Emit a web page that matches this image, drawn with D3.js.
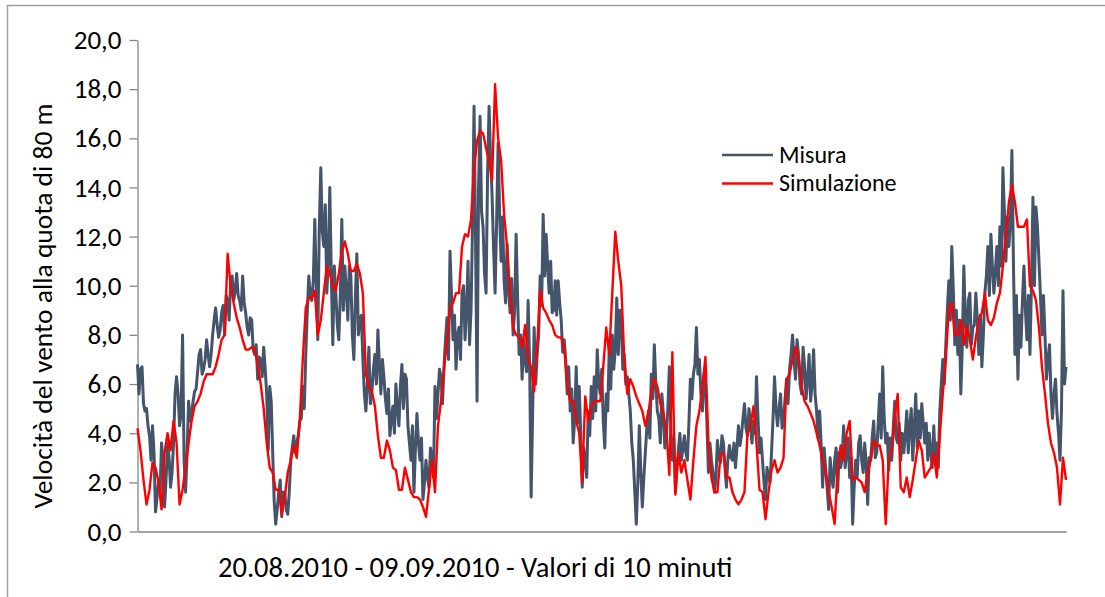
<!DOCTYPE html>
<html>
<head>
<meta charset="utf-8">
<script src="https://cdn.jsdelivr.net/npm/d3@7"></script>
<style>
  html, body { margin: 0; padding: 0; background: #fff; }
  svg { display: block; }
  text { font-family: Calibri, Carlito, "Open Sans", sans-serif; fill: #000; }
</style>
</head>
<body>
<svg id="chart" width="1105" height="597"></svg>
<script>
// Wind speed at 80 m, 10-minute values, 20.08.2010 - 09.09.2010 (m/s)
const misura = [
  6.8, 5.6, 6.6, 6.7, 5.2, 4.9, 5.0, 4.3, 3.9, 2.9, 4.3, 3.2, 0.8, 1.4, 2.0, 1.6, 3.6, 2.9, 1.0, 2.1,
  3.6, 3.0, 1.8, 2.4, 3.6, 5.6, 6.3, 5.6, 4.3, 4.8, 8.0, 2.9, 1.6, 3.2, 5.3, 4.5, 4.8, 5.3, 5.7, 5.8,
  6.5, 7.2, 7.4, 6.4, 6.6, 7.0, 7.8, 7.2, 6.7, 7.2, 8.0, 8.6, 9.1, 8.4, 7.9, 8.2, 8.9, 9.2, 8.0, 9.6,
  9.4, 8.6, 10.2, 10.4, 9.4, 9.8, 10.5, 9.6, 9.4, 9.0, 10.4, 9.3, 8.9, 8.3, 8.0, 8.7, 8.6, 7.4, 7.2, 7.6,
  6.2, 7.1, 7.0, 6.3, 7.5, 6.6, 5.6, 3.3, 5.9, 5.3, 3.2, 1.2, 0.3, 0.9, 1.6, 2.1, 0.6, 1.6, 1.6, 0.9,
  0.7, 1.6, 2.9, 3.4, 3.9,
  3.2,
  3.6, 3.9, 4.5, 4.6, 5.9, 5.0, 7.2, 8.9, 10.4, 9.6, 9.4, 10.2, 12.7, 10.0, 7.8, 12.4, 14.8, 12.2, 11.6, 13.3,
  9.7, 11.0, 14.0, 10.4, 7.6, 10.8, 9.7, 8.4, 7.8, 9.6, 12.7, 9.0, 10.8, 9.8, 8.6, 10.8, 10.4, 8.0, 7.0, 9.5,
  11.3, 8.0, 8.6, 8.8, 7.0, 5.6, 4.9, 6.0, 7.5, 5.2, 5.7, 6.6, 7.2, 6.0, 8.2, 6.8, 5.6, 7.0, 6.3, 5.4,
  4.8, 5.8, 3.9, 4.6, 5.1, 4.0, 6.0, 5.0, 4.3, 5.9, 6.8, 5.0, 6.4, 6.2, 4.3, 3.6, 2.9, 4.3, 1.6, 3.4,
  4.8, 3.6, 2.9, 3.8, 1.3, 2.0, 2.9, 2.2, 1.8, 3.4, 2.9, 2.2, 5.9, 4.6, 5.6, 6.6, 6.3, 5.2, 6.7, 7.8,
  8.7, 7.0, 11.4, 9.6, 7.8, 8.8, 6.6,
  8.0,
  8.3, 7.0, 9.7, 10.0, 7.8, 9.0, 11.0, 7.6, 9.0, 12.5, 17.3, 12.0, 5.3, 14.0, 16.9, 13.0, 12.4, 10.5, 9.7, 14.5,
  17.3, 15.2, 13.7, 11.5, 9.7, 12.5, 15.8, 13.0, 11.0, 12.8, 10.2, 9.3, 11.7, 9.8, 8.9, 10.3, 8.0, 9.0, 12.1, 9.5,
  7.2, 8.0, 6.2, 7.8, 7.0, 6.5, 9.4, 6.8, 1.4, 4.8, 8.3, 6.0, 7.2, 8.0, 10.4, 9.2, 12.9, 10.4, 12.1, 10.8,
  9.7, 11.0, 8.9, 9.0, 10.2, 8.8, 10.2, 9.3, 8.6, 7.3, 7.8, 7.0, 5.6, 6.7, 4.9, 5.8, 3.6, 4.6, 6.7, 4.4,
  5.9, 4.0, 1.8, 3.4, 2.9, 2.2, 4.9, 3.9, 5.9, 4.6, 6.3, 4.9, 7.4, 6.0, 5.6, 6.6, 4.5, 3.4, 5.6, 4.9,
  7.5, 5.8, 8.0, 6.6, 7.4,
  9.5,
  7.2, 9.0, 8.6, 6.6, 7.2, 6.0, 6.3, 5.6, 4.9, 3.6, 2.9, 1.6, 0.3, 2.0, 4.3, 2.4, 1.0, 2.2, 3.2, 4.2,
  4.9, 3.8, 6.4, 5.4, 7.6, 6.0, 4.9, 4.6, 3.6, 5.6, 4.8, 3.4, 3.9, 5.0, 6.7, 4.2, 2.9, 3.8, 1.6, 2.6,
  3.3, 4.0, 2.9, 3.4, 3.9, 3.2, 2.9, 4.4, 6.2, 5.4, 6.4, 6.8, 8.3, 6.4, 7.0, 5.6, 4.9, 6.4, 6.2, 4.4,
  2.4, 3.6, 2.9, 2.4, 1.6, 2.2, 3.7, 3.0, 2.8, 3.9, 3.6, 2.6, 1.8, 3.0, 3.5, 3.0, 2.9, 3.6, 2.6, 3.4,
  4.3, 3.5, 3.9, 4.6, 5.2, 4.2, 3.9, 5.0, 4.3, 3.6, 4.5, 4.0, 6.3, 4.6, 3.2, 3.8, 2.9, 2.0, 1.3, 2.6,
  2.2, 2.0, 3.2, 4.6, 6.3,
  5.0,
  4.3, 5.0, 5.6, 4.2, 4.5, 5.4, 6.2, 5.2, 6.6, 7.2, 8.0, 7.0, 6.2, 7.8, 7.2, 6.0, 5.6, 7.5, 6.7, 5.4,
  6.2, 7.2, 5.3, 6.0, 7.4, 5.6, 4.9, 3.8, 4.9, 3.6, 1.8, 3.4, 2.6, 1.8, 0.9, 3.0, 2.2, 1.8, 2.9, 3.4,
  1.6, 3.2, 2.6, 3.0, 4.3, 2.6, 3.2, 3.8, 2.2, 3.0, 0.3, 1.8, 2.9, 2.2, 3.6, 3.9, 2.9, 2.4, 3.6, 2.8,
  1.1, 3.0, 2.9, 3.8, 4.5, 3.0, 3.2, 4.4, 5.6, 3.8, 6.7, 4.6, 3.6, 4.0, 2.5, 3.8, 2.9, 4.2, 5.3, 3.8,
  3.6, 4.4, 2.9, 4.0, 3.2, 3.9, 4.9, 3.2, 4.3, 5.0, 2.9, 4.2, 5.6, 3.4, 4.9, 3.8, 5.2, 4.4, 3.6, 4.4,
  2.9, 4.0, 3.2, 2.6, 4.3,
  2.8,
  3.6, 2.6, 4.9, 6.0, 7.0, 6.0, 7.6, 9.0, 10.2, 8.6, 11.6, 9.8, 7.6, 9.0, 7.2, 8.6, 5.6, 7.6, 10.8, 8.6,
  7.5, 9.4, 9.7, 7.6, 8.3, 8.4, 9.7, 8.6, 7.2, 8.8, 6.7, 8.0, 9.7, 10.4, 11.6, 9.6, 12.1, 10.8, 9.7, 10.6,
  11.6, 10.0, 12.4, 10.8, 14.8, 13.0, 11.0, 12.8, 11.6, 12.6, 15.5, 11.0, 7.2, 9.6, 6.2, 8.8, 7.5, 9.4, 10.8, 9.0,
  7.8, 9.6, 7.2, 10.0, 13.6, 10.0, 13.2, 12.4, 11.0, 9.6, 8.0, 9.6, 8.0, 6.2, 7.0, 7.6, 5.6, 4.6, 5.6, 6.2,
  4.8, 4.0, 2.9, 5.0, 9.8, 6.0, 6.7
];

// simulated series, one value every second measured step
const simulazione = [
  4.2, 3.3, 2.1, 1.1, 1.7, 2.8, 2.6, 2.0, 0.9, 3.2, 4.0, 3.3, 4.5, 3.6, 1.1, 1.7, 2.6, 3.6, 4.5, 5.1,
  5.3, 5.6, 6.1, 6.4, 6.4, 6.4, 6.7, 7.2, 7.8, 8.0, 11.3, 10.0, 9.3, 8.7, 8.3, 7.8, 7.4, 7.4, 7.5, 7.4,
  6.8, 6.0, 5.0, 3.6, 2.6, 2.4, 1.7, 1.7, 0.7, 1.4, 2.4, 2.9, 3.5,
  3.0, 4.5, 7.0, 9.1, 9.5, 9.5, 9.8, 8.0, 8.6, 9.7, 10.8, 10.5, 10.0, 9.8, 10.5, 11.4, 11.8, 11.3, 10.6, 10.6,
  10.9, 10.5, 9.7, 6.4, 5.9, 5.7, 5.1, 3.9, 3.0, 3.0, 3.7, 3.3, 2.6, 2.5, 1.7, 1.7, 2.6, 2.1, 1.6, 1.4,
  1.4, 1.3, 1.0, 0.6, 1.7, 2.9, 1.6, 4.3, 5.3, 6.6, 7.8, 9.1, 9.3, 9.7,
  9.7, 11.6, 12.1, 12.0, 12.7, 14.7, 15.9, 16.3, 16.2, 15.6, 15.1, 14.3, 18.2, 16.0, 15.1, 12.9, 11.6, 9.7, 8.3, 8.0,
  7.9, 7.5, 8.4, 7.0, 6.7, 5.7, 7.5, 9.8, 9.1, 8.9, 8.6, 8.4, 8.0, 7.9, 7.9, 7.5, 6.0, 5.3, 5.3, 4.5,
  4.0, 2.0, 5.5, 4.5, 5.1, 5.3, 5.3, 5.3, 6.7, 8.3, 7.2, 9.7, 12.2,
  11.0, 10.0, 7.0, 5.6, 6.2, 5.9, 5.5, 5.2, 4.9, 4.3, 4.8, 5.7, 6.2, 5.9, 5.2, 4.8, 4.1, 2.3, 7.3, 1.5,
  3.2, 2.4, 2.9, 2.1, 1.3, 2.9, 4.3, 4.9, 5.9, 7.1, 3.6, 2.2, 1.6, 1.6, 3.1, 3.2, 2.2, 2.2, 1.6, 1.3,
  1.1, 1.3, 1.6, 4.0, 4.3, 5.1, 3.6, 1.7, 1.6, 0.5, 1.6, 2.5, 2.9,
  2.4, 2.6, 3.0, 6.2, 6.4, 7.0, 7.5, 7.1, 5.9, 5.3, 5.1, 4.8, 4.5, 4.0, 3.5, 2.9, 2.4, 1.6, 1.0, 0.3,
  2.5, 3.5, 2.9, 4.0, 4.5, 2.1, 2.2, 2.1, 2.0, 1.6, 2.4, 2.9, 3.7, 3.5, 3.5, 2.9, 0.3, 2.9, 3.3, 4.7,
  5.6, 1.8, 1.6, 2.2, 1.4, 2.1, 2.9, 3.7, 3.3, 2.2, 2.4, 2.6, 3.2,
  2.2, 3.9, 5.6, 7.0, 9.1, 9.3, 8.0, 8.0, 8.6, 7.6, 8.4, 7.8, 7.0, 7.9, 8.6, 8.9, 9.7, 8.6, 8.4, 8.7,
  9.3, 9.7, 10.8, 12.1, 13.4, 14.1, 13.4, 12.4, 12.4, 12.4, 12.7, 10.0, 9.8, 9.4, 8.3, 6.7, 5.6, 4.4, 3.6, 3.2,
  2.6, 1.1, 3.0, 2.1
];

const yTicks = [0, 2, 4, 6, 8, 10, 12, 14, 16, 18, 20];
const seriesNames = ["Misura", "Simulazione"];
const seriesColors = ["#44546A", "#FF0000"];
const yAxisTitle = "Velocità del vento alla quota di 80 m";
const xAxisTitle = "20.08.2010 - 09.09.2010 - Valori di 10 minuti";

const W = 1105, H = 597;
const plot = { left: 137.5, right: 1066, top: 40, bottom: 531.5 };

const svg = d3.select("#chart");

// outer chart frame (left and top edges)
svg.append("path")
  .attr("d", `M7.5,${H} V5.5 H${W}`)
  .attr("fill", "none")
  .attr("stroke", "#a0a0a0")
  .attr("stroke-width", 1.5);

// shared time axis: index of the 10-minute step
const x = d3.scaleLinear().domain([0, misura.length - 1]).range([plot.left, plot.right]);
const y = d3.scaleLinear().domain([0, 20]).range([plot.bottom, plot.top]);
const simStep = (misura.length - 1) / (simulazione.length - 1);

const itLocale = d3.formatLocale({ decimal: ",", thousands: ".", grouping: [3], currency: ["", " €"] });
const fmt = itLocale.format(".1f");

// y axis
const yAxis = svg.append("g")
  .attr("transform", `translate(${plot.left},0)`)
  .call(d3.axisLeft(y).tickValues(yTicks).tickSize(8).tickSizeOuter(0).tickPadding(8).tickFormat(fmt));
yAxis.select(".domain").attr("stroke", "#868686").attr("stroke-width", 1.3);
yAxis.selectAll(".tick line").attr("stroke", "#868686").attr("stroke-width", 1.3);
yAxis.selectAll(".tick text")
  .attr("font-size", 27)
  .attr("font-family", 'Calibri, Carlito, "Open Sans", sans-serif')
  .attr("fill", "#000");

// x axis (category axis line only)
const xAxis = svg.append("g")
  .attr("transform", `translate(0,${plot.bottom})`)
  .call(d3.axisBottom(x).tickValues([]).tickSizeOuter(0));
xAxis.select(".domain").attr("stroke", "#868686").attr("stroke-width", 1.3);

// series lines
const lineMis = d3.line().x((d, i) => x(i)).y(d => y(d));
const lineSim = d3.line().x((d, i) => x(i * simStep)).y(d => y(d));

const widths = [3, 2.4];
svg.append("path")
  .datum(misura)
  .attr("d", lineMis)
  .attr("fill", "none")
  .attr("stroke", seriesColors[0])
  .attr("stroke-width", widths[0])
  .attr("stroke-linejoin", "round");
svg.append("path")
  .datum(simulazione)
  .attr("d", lineSim)
  .attr("fill", "none")
  .attr("stroke", seriesColors[1])
  .attr("stroke-width", widths[1])
  .attr("stroke-linejoin", "round");

// legend
const legend = svg.append("g").attr("transform", "translate(722,155)");
seriesNames.forEach((name, k) => {
  const g = legend.append("g").attr("transform", `translate(0,${k * 28.5})`);
  g.append("line")
    .attr("x1", 0).attr("x2", 51).attr("y1", 0).attr("y2", 0)
    .attr("stroke", seriesColors[k]).attr("stroke-width", 2.5);
  g.append("text")
    .attr("x", 57).attr("y", 7.7)
    .attr("font-size", 24)
    .text(name);
});

// axis titles
svg.append("text")
  .attr("transform", "translate(52,306) rotate(-90)")
  .attr("text-anchor", "middle")
  .attr("font-size", 27.5)
  .text(yAxisTitle);

svg.append("text")
  .attr("x", 218).attr("y", 577)
  .attr("font-size", 28.5)
  .text(xAxisTitle);
</script>
</body>
</html>
